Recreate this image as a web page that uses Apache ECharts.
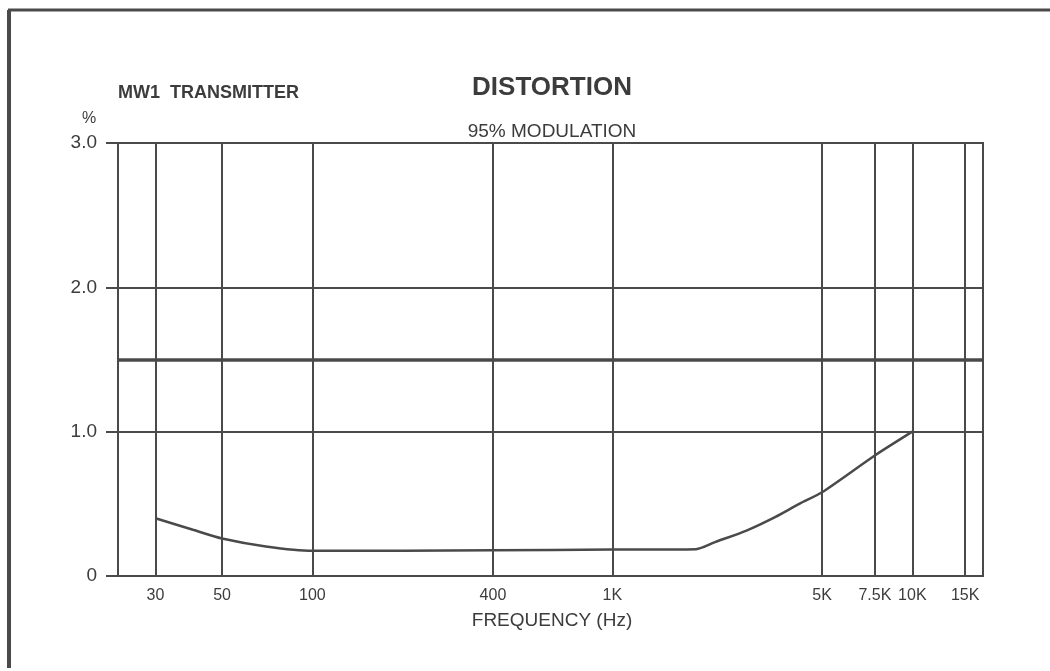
<!DOCTYPE html>
<html>
<head>
<meta charset="utf-8">
<script src="https://cdn.jsdelivr.net/npm/echarts@6/dist/echarts.min.js"></script>
<style>html,body{margin:0;padding:0;background:#fff;}#c{width:1050px;height:671px;}</style>
</head>
<body>
<div id="c"></div>
<script>
// Data
const freqHz = [30, 40, 50, 70, 100, 200, 400, 1000, 1900, 2200, 2800, 3500, 4200, 5000, 7500, 10000];
const distortionPct = [0.40, 0.32, 0.26, 0.205, 0.175, 0.175, 0.178, 0.183, 0.186, 0.235, 0.315, 0.41, 0.50, 0.58, 0.835, 1.0];
const xTickValues = [30, 50, 100, 400, 1000, 5000, 7500, 10000, 15000];
const xTickLabels = ['30', '50', '100', '400', '1K', '5K', '7.5K', '10K', '15K'];
const yLabelValues = [0, 1, 2, 3];
const yLabelTexts = ['0', '1.0', '2.0', '3.0'];
const limitLine = 1.5;

const ink = '#4a4a4a';
const textInk = '#3c3c3c';
const font = 'Liberation Sans, Arial, Helvetica, sans-serif';

const chart = echarts.init(document.getElementById('c'));
chart.setOption({
  animation: false,
  backgroundColor: '#fff',
  title: [
    { text: 'DISTORTION', left: 552, top: 75, textAlign: 'center', padding: 0,
      textStyle: { fontFamily: font, fontSize: 26, fontWeight: 'bold', color: textInk } },
    { text: '95% MODULATION', left: 552, top: 122, textAlign: 'center', padding: 0,
      textStyle: { fontFamily: font, fontSize: 19, fontWeight: 'normal', color: textInk } },
    { text: 'MW1  TRANSMITTER', left: 118, top: 84, padding: 0,
      textStyle: { fontFamily: font, fontSize: 18, fontWeight: 'bold', color: textInk } },
    { text: '%', left: 89, top: 111, textAlign: 'center', padding: 0,
      textStyle: { fontFamily: font, fontSize: 16, fontWeight: 'normal', color: textInk } },
    { text: 'FREQUENCY (Hz)', left: 552, top: 611, textAlign: 'center', padding: 0,
      textStyle: { fontFamily: font, fontSize: 19, fontWeight: 'normal', color: textInk } }
  ],
  graphic: [
    { type: 'line', shape: { x1: 8, y1: 10, x2: 1050, y2: 10 }, style: { stroke: ink, lineWidth: 3 } },
    { type: 'line', shape: { x1: 9, y1: 10, x2: 9, y2: 668 }, style: { stroke: ink, lineWidth: 4 } }
  ],
  grid: { left: 118, right: 67, top: 143, bottom: 95, show: true, borderColor: ink, borderWidth: 2 },
  xAxis: {
    type: 'log', logBase: 10, min: 22.5, max: 17200,
    axisLine: { show: false },
    axisTick: { show: false },
    splitLine: { show: false },
    minorSplitLine: { show: false },
    axisLabel: {
      customValues: xTickValues,
      formatter: function (v) {
        const i = xTickValues.findIndex(t => Math.abs(t - v) / t < 1e-6);
        return i >= 0 ? xTickLabels[i] : '';
      },
      margin: 12, fontFamily: font, fontSize: 16, color: textInk
    }
  },
  yAxis: {
    type: 'value', min: 0, max: 3, interval: 0.5,
    axisLine: { show: false },
    axisTick: { show: true, customValues: yLabelValues, length: 12, lineStyle: { color: ink, width: 2 } },
    splitLine: { show: true, lineStyle: { color: ink, width: 2 } },
    axisLabel: {
      customValues: yLabelValues,
      formatter: function (v) {
        const i = yLabelValues.indexOf(Math.round(v));
        return i >= 0 ? yLabelTexts[i] : '';
      },
      margin: 21, fontFamily: font, fontSize: 19, color: textInk
    }
  },
  series: [{
    type: 'line',
    data: freqHz.map((f, i) => [f, distortionPct[i]]),
    showSymbol: false,
    smooth: 0.25,
    lineStyle: { color: ink, width: 2.5 },
    markLine: {
      silent: true, symbol: 'none', animation: false,
      label: { show: false },
      data: xTickValues.map(v => ({ xAxis: v, lineStyle: { color: ink, width: 2, type: 'solid' } }))
        .concat([{ yAxis: limitLine, lineStyle: { color: ink, width: 3.5, type: 'solid' } }])
    }
  }]
});
</script>
</body>
</html>
